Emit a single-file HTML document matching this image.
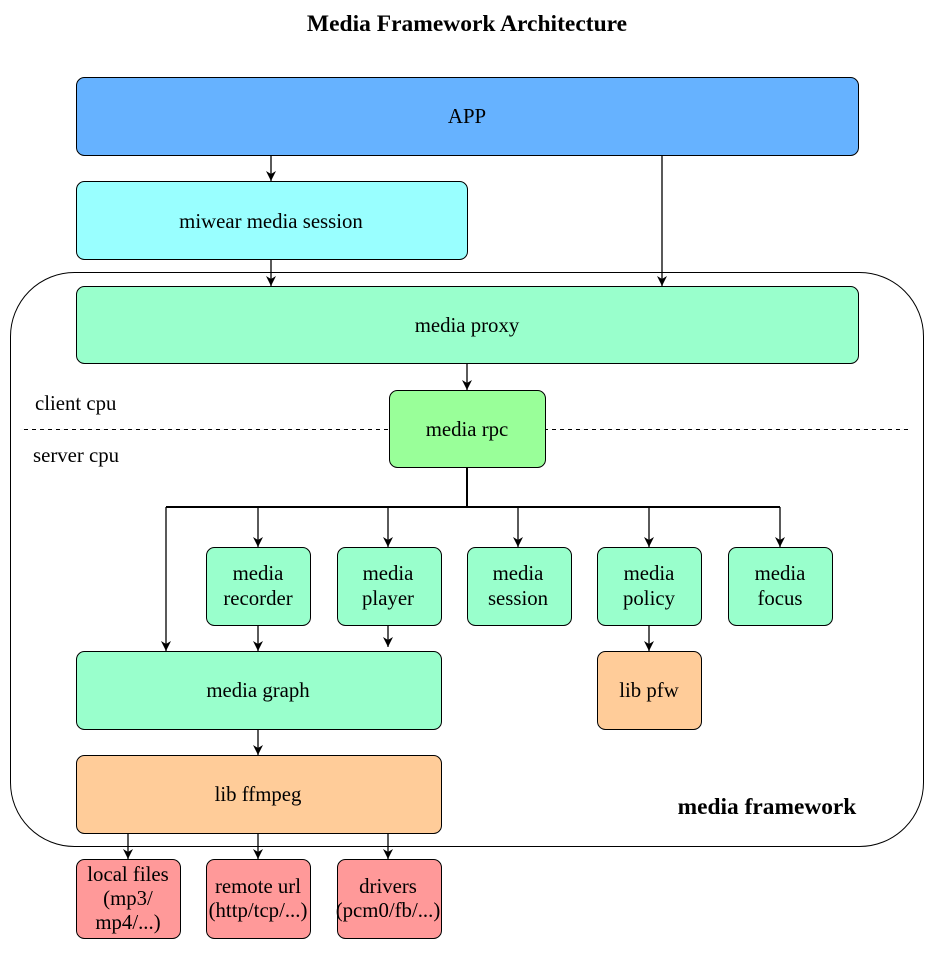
<!DOCTYPE html>
<html><head><style>body{margin:0;background:#fff}svg{display:block}text{font-family:"Liberation Serif",serif;font-size:20.8px;fill:#000}</style></head>
<body>
<svg width="939" height="957" viewBox="0 0 939 957" xmlns="http://www.w3.org/2000/svg">
<defs><marker id="a" markerWidth="12" markerHeight="12" refX="5" refY="10" orient="0" markerUnits="userSpaceOnUse"><path d="M0,0 L5,10 L10,0 L5,3 Z" fill="#000"/></marker></defs>
<text x="467" y="31" text-anchor="middle" font-weight="bold" style="font-size:23.5px">Media Framework Architecture</text>
<rect x="10.5" y="272.5" width="913" height="574" rx="64" fill="#fff" stroke="#000"/>
<g stroke="#000" stroke-width="1">
<rect x="76.5" y="77.5" width="782" height="78" rx="8" fill="#66B2FF"/>
<rect x="76.5" y="181.5" width="391" height="78" rx="8" fill="#99FFFF"/>
<rect x="76.5" y="286.5" width="782" height="77" rx="8" fill="#99FFCC"/>
<line x1="24" y1="429.5" x2="910" y2="429.5" stroke-dasharray="4,4"/>
<rect x="389.5" y="390.5" width="156" height="77" rx="8" fill="#99FF99"/>
<rect x="206.5" y="547.5" width="104" height="78" rx="8" fill="#99FFCC"/>
<rect x="337.5" y="547.5" width="104" height="78" rx="8" fill="#99FFCC"/>
<rect x="467.5" y="547.5" width="104" height="78" rx="8" fill="#99FFCC"/>
<rect x="597.5" y="547.5" width="104" height="78" rx="8" fill="#99FFCC"/>
<rect x="728.5" y="547.5" width="104" height="78" rx="8" fill="#99FFCC"/>
<rect x="76.5" y="651.5" width="365" height="78" rx="8" fill="#99FFCC"/>
<rect x="597.5" y="651.5" width="104" height="78" rx="8" fill="#FFCC99"/>
<rect x="76.5" y="755.5" width="365" height="78" rx="8" fill="#FFCC99"/>
<rect x="76.5" y="859.5" width="104" height="79" rx="8" fill="#FF9999"/>
<rect x="206.5" y="859.5" width="104" height="79" rx="8" fill="#FF9999"/>
<rect x="337.5" y="859.5" width="104" height="79" rx="8" fill="#FF9999"/>
<g fill="none" marker-end="url(#a)" stroke-width="1.3">
<line x1="271" y1="155" x2="271" y2="181"/>
<line x1="662" y1="155" x2="662" y2="286"/>
<line x1="271" y1="259" x2="271" y2="286"/>
<line x1="467" y1="363" x2="467" y2="390"/>
<line x1="258" y1="507" x2="258" y2="547"/>
<line x1="388" y1="507" x2="388" y2="547"/>
<line x1="518" y1="507" x2="518" y2="547"/>
<line x1="649" y1="507" x2="649" y2="547"/>
<line x1="780" y1="507" x2="780" y2="547"/>
<line x1="166" y1="507" x2="166" y2="651"/>
<line x1="258" y1="625" x2="258" y2="651"/>
<line x1="388" y1="625" x2="388" y2="647"/>
<line x1="649" y1="625" x2="649" y2="651"/>
<line x1="258" y1="729" x2="258" y2="755"/>
<line x1="128" y1="833" x2="128" y2="859"/>
<line x1="258" y1="833" x2="258" y2="859"/>
<line x1="388" y1="833" x2="388" y2="859"/>
</g>
<path d="M467,467 V507 M166,507 H780" fill="none" stroke-width="2"/>
</g>
<g text-anchor="middle">
<text x="467" y="123">APP</text>
<text x="271" y="228">miwear media session</text>
<text x="467" y="332">media proxy</text>
<text x="467" y="436">media rpc</text>
<text x="258" y="580">media</text><text x="258" y="605">recorder</text>
<text x="388" y="580">media</text><text x="388" y="605">player</text>
<text x="518" y="580">media</text><text x="518" y="605">session</text>
<text x="649" y="580">media</text><text x="649" y="605">policy</text>
<text x="780" y="580">media</text><text x="780" y="605">focus</text>
<text x="258" y="697">media graph</text>
<text x="649" y="697">lib pfw</text>
<text x="258" y="801">lib ffmpeg</text>
<text x="128" y="881">local files</text><text x="128" y="905">(mp3/</text><text x="128" y="929">mp4/...)</text>
<text x="258" y="893">remote url</text><text x="258" y="917">(http/tcp/...)</text>
<text x="388" y="893">drivers</text><text x="388" y="917">(pcm0/fb/...)</text>
</g>
<text x="35" y="410">client cpu</text>
<text x="33" y="462">server cpu</text>
<text x="767" y="814" text-anchor="middle" font-weight="bold" style="font-size:23.4px">media framework</text>
</svg>
</body></html>
